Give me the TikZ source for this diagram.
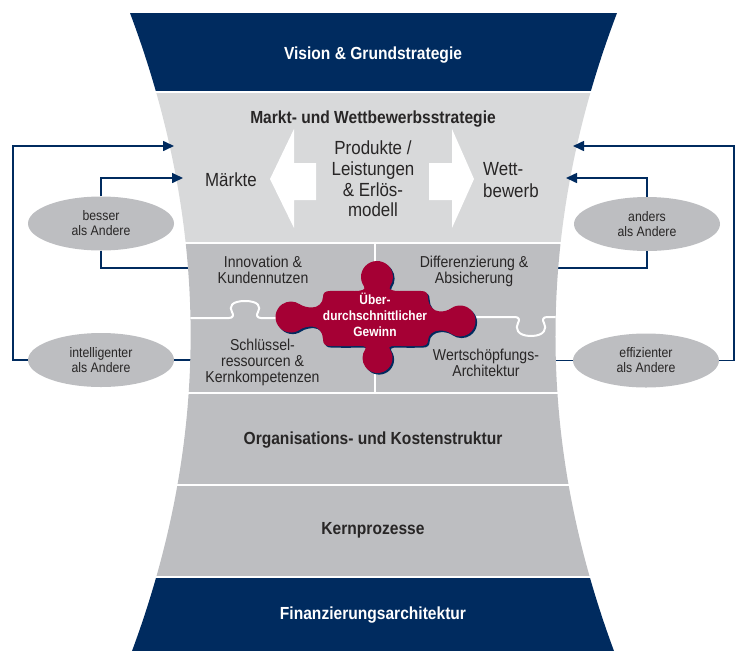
\documentclass[tikz,border=0pt]{standalone}
\usepackage{fontspec}
\setmainfont{Liberation Sans}[FakeStretch=0.89]
\usetikzlibrary{arrows.meta,shapes.geometric}
\definecolor{navy}{RGB}{0,43,95}
\definecolor{lightg}{RGB}{216,217,218}
\definecolor{midg}{RGB}{189,190,193}
\definecolor{wine}{RGB}{165,0,52}
\definecolor{ink}{RGB}{40,38,38}
\def\piecepath{(330,291)
 .. controls (340,290.5) and (348,291) .. (355,291)
 .. controls (362,291) and (366.2,289.5) .. (363.89,286.18)
 arc[start angle=215, end angle=-35, radius=16pt]
 .. controls (387.8,289.5) and (392,291) .. (399,291)
 .. controls (406,291) and (414,290.5) .. (421,291)
 .. controls (426,291) and (428,293) .. (428,298)
 .. controls (428,305) and (433,311.5) .. (440,311.5)
 .. controls (444,311.5) and (447.8,310.6) .. (451.11,308.3)
 arc[start angle=125, end angle=-125, radius=15.5pt]
 .. controls (447.8,331.4) and (444,330.5) .. (440,330.5)
 .. controls (433,330.5) and (428,335) .. (428,340)
 .. controls (428,344) and (426,346) .. (421,346)
 .. controls (414,346) and (408,346.5) .. (402,346)
 .. controls (394,346) and (386.9,345.3) .. (389.79,349.4)
 arc[start angle=35, end angle=-215, radius=15pt]
 .. controls (368.1,345.3) and (361,346) .. (353,346)
 .. controls (346,346.5) and (338,346) .. (330,346)
 .. controls (325,346) and (323,344) .. (323,339)
 .. controls (323,332) and (318,326.5) .. (312,326.5)
 .. controls (308,326.5) and (303.2,327.4) .. (299.89,329.7)
 arc[start angle=-55, end angle=-305, radius=15.5pt]
 .. controls (303.2,306.6) and (308,307.5) .. (312,307.5)
 .. controls (318,307.5) and (323,303) .. (323,297)
 .. controls (323,293) and (325,291) .. (330,291) -- cycle}
\begin{document}
\begin{tikzpicture}[x=1pt,y=-1pt,
  hdr/.style={font=\fontsize{17.5}{20}\selectfont\bfseries, text=ink, anchor=base, inner sep=0pt},
  mtxt/.style={font=\fontsize{19}{20.6}\selectfont, text=ink, align=center, inner sep=0pt},
  ptxt/.style={font=\fontsize{15.8}{16.1}\selectfont, text=ink, align=center, inner sep=0pt},
  redtxt/.style={font=\fontsize{13.4}{16.2}\selectfont\bfseries, text=white, align=center, inner sep=0pt},
  oval/.style={ellipse, fill=midg, minimum width=146pt, minimum height=54pt, inner sep=0pt, font=\fontsize{13.8}{15}\selectfont, text=ink, align=center},
  conn/.style={draw=navy, line width=1.6pt},
  tipconn/.style={conn, -{Triangle[length=11pt,width=10pt]}},
  sepline/.style={draw=white, line width=2pt}]
\useasboundingbox (0,0) rectangle (736,651);

% ellipses
\node[oval] (besser) at (101,223.5) {besser\\als Andere};
\node[oval] (intel) at (101,360) {intelligenter\\als Andere};
\node[oval] (anders) at (647,224) {anders\\als Andere};
\node[oval] (effiz) at (646,360.5) {effizienter\\als Andere};

% connector end points
\coordinate (Lout) at (174,146);
\coordinate (Lin) at (183,178);
\coordinate (Le1) at (196,268);
\coordinate (Le2) at (196,360);
\coordinate (Rout) at (573,146);
\coordinate (Rin) at (566,178);
\coordinate (Re1) at (550,268);
\coordinate (Re2) at (550,360.5);

% plain connectors (ending under the shape)
\draw[conn] (intel.east) -- (Le2);
\draw[conn] (besser.south) |- (Le1);
\draw[conn] (effiz.west) -- (Re2);
\draw[conn] (anders.south) |- (Re1);

% hourglass bands
\begin{scope}
\clip (130,13) .. controls (210,226) and (211,438) .. (132,651) -- (614,651) .. controls (535,438) and (536,226) .. (617,13) -- cycle;
\fill[navy] (0,13) rectangle (736,90.5);
\fill[lightg] (0,92.5) rectangle (736,241.5);
\fill[midg] (0,243.5) rectangle (736,391.5);
\fill[midg] (0,393.5) rectangle (736,483.5);
\fill[midg] (0,485.5) rectangle (736,575.5);
\fill[navy] (0,577.5) rectangle (736,651);
% puzzle separators
\draw[sepline] (374.5,243) -- (374.5,392);
\draw[sepline] (150,318) -- (229,318) .. controls (233,318) and (234,315) .. (232,312) .. controls (229,307) and (231,301) .. (245,301) .. controls (259,301) and (261,307) .. (258,312) .. controls (256,315) and (257,318) .. (261,318) -- (300,318);
\draw[sepline] (450,317) -- (515,317) .. controls (519,317) and (520,320) .. (518,323) .. controls (515,328) and (517,336) .. (531,336) .. controls (545,336) and (547,328) .. (544,323) .. controls (542,320) and (543,317) .. (547,317) -- (600,317);
\end{scope}

% white block arrows
\fill[white] (270,179) -- (294,129) -- (294,163) -- (316,163) -- (316,200) -- (294,200) -- (294,228) -- cycle;
\fill[white] (474,179) -- (452,129) -- (452,163) -- (429,163) -- (429,200) -- (452,200) -- (452,228) -- cycle;

% central puzzle piece
\begin{scope}[shift={(1.6,1.6)}]
\fill[navy] \piecepath;
\end{scope}
\fill[wine] \piecepath;

% texts
\node[hdr, text=white] (vision) at (373,59.3) {Vision \& Grundstrategie};
\node[hdr] (markt) at (373,123.3) {Markt- und Wettbewerbsstrategie};
\node[mtxt, anchor=base] (maerkte) at (231,186.7) {Märkte};
\node[mtxt] (produkte) at (373,179) {Produkte /\\Leistungen\\\& Erlös-\\modell};
\node[mtxt, align=left, anchor=west, font=\fontsize{19}{22}\selectfont] (wett) at (483,180.4) {Wett-\\bewerb};
\node[ptxt] (innov) at (263,269.7) {Innovation \&\\Kundennutzen};
\node[ptxt] (diff) at (474,271.3) {Differenzierung \&\\Absicherung};
\node[ptxt] (schl) at (262.5,362.2) {Schlüssel-\\ressourcen \&\\Kernkompetenzen};
\node[ptxt] (wert) at (486,363.2) {Wertschöpfungs-\\Architektur};
\node[redtxt] (gewinn) at (375,314.7) {Über-\\durchschnittlicher\\Gewinn};
\node[hdr] (org) at (373,444) {Organisations- und Kostenstruktur};
\node[hdr] (kern) at (373,534.3) {Kernprozesse};
\node[hdr, text=white] (fin) at (373,619.3) {Finanzierungsarchitektur};

% arrow connectors
\draw[tipconn] (intel.west) -- ++(-15,0) |- (Lout);
\draw[tipconn] (besser.north) |- (Lin);
\draw[tipconn] (effiz.east) -- ++(15,0) |- (Rout);
\draw[tipconn] (anders.north) |- (Rin);
\end{tikzpicture}
\end{document}
